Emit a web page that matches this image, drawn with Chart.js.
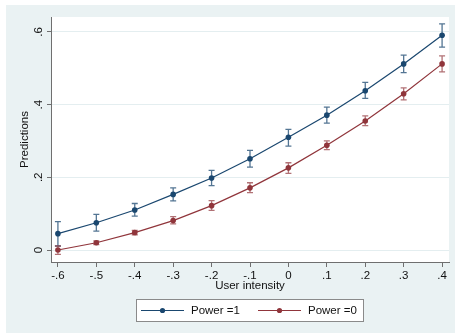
<!DOCTYPE html>
<html>
<head>
<meta charset="utf-8">
<script src="https://cdn.jsdelivr.net/npm/chart.js@4/dist/chart.umd.min.js"></script>
<style>
  html, body { margin: 0; padding: 0; background: #ffffff; }
  canvas { display: block; }
</style>
</head>
<body>
<canvas id="margins" width="455" height="333"></canvas>
<script>
// valeurs
const userIntensity = [-0.6, -0.5, -0.4, -0.3, -0.2, -0.1, 0, 0.1, 0.2, 0.3, 0.4];
const power1 = [0.045, 0.075, 0.110, 0.153, 0.198, 0.251, 0.310, 0.371, 0.438, 0.512, 0.591];
const power1Lo = [0.011, 0.052, 0.093, 0.135, 0.177, 0.228, 0.286, 0.349, 0.417, 0.488, 0.558];
const power1Hi = [0.078, 0.098, 0.128, 0.171, 0.219, 0.274, 0.332, 0.393, 0.461, 0.536, 0.622];
const power0 = [0.000, 0.020, 0.048, 0.081, 0.122, 0.171, 0.226, 0.288, 0.355, 0.430, 0.512];
const power0Lo = [-0.012, 0.015, 0.042, 0.072, 0.109, 0.158, 0.211, 0.276, 0.342, 0.413, 0.490];
const power0Hi = [0.011, 0.025, 0.054, 0.092, 0.136, 0.185, 0.240, 0.300, 0.369, 0.446, 0.534];
const xTicks = [-0.6, -0.5, -0.4, -0.3, -0.2, -0.1, 0, 0.1, 0.2, 0.3, 0.4];
const yTicks = [0, 0.2, 0.4, 0.6];
const seriesLabels = ['Power =1', 'Power =0'];

const FONT = 'Liberation Sans, Arial, sans-serif';
const BLUE = '#1a476f';
const RED = '#90353b';
const AXIS = '#6f6f6f';

// format Stata: -.6, .2, 0
function stataLabel(v) {
    const n = Math.round(v * 10);
    if (n === 0) return '0';
    return (n < 0 ? '-' : '') + '.' + Math.abs(n);
}

function toPoints(ys) {
    return userIntensity.map((x, i) => ({ x: x, y: ys[i] }));
}

// fond gris + zone blanche du graphique
const backgroundPlugin = {
    id: 'stataBackground',
    beforeDraw(chart) {
        const { ctx, chartArea } = chart;
        ctx.save();
        ctx.fillStyle = '#eaf2f3';
        ctx.fillRect(6, 5, chart.width - 6, chart.height - 5);
        ctx.fillStyle = '#ffffff';
        ctx.fillRect(chartArea.left, chartArea.top, chartArea.right - chartArea.left, chartArea.bottom - chartArea.top);
        ctx.restore();
    }
};

// barres d'erreur (rcap)
const errorBarsPlugin = {
    id: 'errorBars',
    beforeDatasetsDraw(chart) {
        const { ctx, scales } = chart;
        const bounds = [
            { lo: power1Lo, hi: power1Hi, color: 'rgba(26, 71, 111, 0.75)' },
            { lo: power0Lo, hi: power0Hi, color: 'rgba(144, 53, 59, 0.7)' }
        ];
        ctx.save();
        ctx.lineWidth = 1.3;
        bounds.forEach(b => {
            ctx.strokeStyle = b.color;
            userIntensity.forEach((x, i) => {
                const px = scales.x.getPixelForValue(x);
                const yLo = scales.y.getPixelForValue(b.lo[i]);
                const yHi = scales.y.getPixelForValue(b.hi[i]);
                ctx.beginPath();
                ctx.moveTo(px, yLo);
                ctx.lineTo(px, yHi);
                ctx.moveTo(px - 3, yLo);
                ctx.lineTo(px + 3, yLo);
                ctx.moveTo(px - 3, yHi);
                ctx.lineTo(px + 3, yHi);
                ctx.stroke();
            });
        });
        ctx.restore();
    }
};

// étiquettes verticales de l'axe y + légende encadrée
const labelsPlugin = {
    id: 'stataLabels',
    afterDraw(chart) {
        const { ctx, scales } = chart;
        ctx.save();
        ctx.fillStyle = '#111111';
        ctx.font = '11.5px ' + FONT;
        ctx.textAlign = 'center';
        ctx.textBaseline = 'middle';
        yTicks.forEach(v => {
            const py = scales.y.getPixelForValue(v);
            ctx.save();
            ctx.translate(39, py);
            ctx.rotate(-Math.PI / 2);
            ctx.fillText(stataLabel(v), 0, 0);
            ctx.restore();
        });

        // légende
        ctx.fillStyle = '#ffffff';
        ctx.fillRect(136.5, 299.5, 227, 22);
        ctx.strokeStyle = '#8a8a8a';
        ctx.lineWidth = 1;
        ctx.strokeRect(136.5, 299.5, 227, 22);
        const entries = [
            { x0: 141, x1: 184, text: seriesLabels[0], color: BLUE },
            { x0: 258, x1: 301, text: seriesLabels[1], color: RED }
        ];
        const ly = 310.5;
        entries.forEach(e => {
            ctx.strokeStyle = e.color;
            ctx.lineWidth = 1.2;
            ctx.beginPath();
            ctx.moveTo(e.x0, ly);
            ctx.lineTo(e.x1, ly);
            ctx.stroke();
            ctx.fillStyle = e.color;
            ctx.beginPath();
            ctx.arc((e.x0 + e.x1) / 2, ly, 2.6, 0, Math.PI * 2);
            ctx.fill();
            ctx.fillStyle = '#111111';
            ctx.textAlign = 'left';
            ctx.fillText(e.text, e.x1 + 7, ly);
        });
        ctx.restore();
    }
};

new Chart(document.getElementById('margins').getContext('2d'), {
    type: 'scatter',
    data: {
        datasets: [
            {
                label: seriesLabels[0],
                data: toPoints(power1),
                showLine: true,
                borderColor: BLUE,
                backgroundColor: BLUE,
                borderWidth: 1.2,
                pointRadius: 2.8,
                pointBorderWidth: 0,
                tension: 0
            },
            {
                label: seriesLabels[1],
                data: toPoints(power0),
                showLine: true,
                borderColor: RED,
                backgroundColor: RED,
                borderWidth: 1.2,
                pointRadius: 2.8,
                pointBorderWidth: 0,
                tension: 0
            }
        ]
    },
    options: {
        responsive: false,
        animation: false,
        events: [],
        layout: { padding: { left: 6, top: 17, right: 6, bottom: 0 } },
        plugins: {
            legend: { display: false },
            tooltip: { enabled: false }
        },
        scales: {
            x: {
                type: 'linear',
                min: -0.618,
                max: 0.418,
                afterBuildTicks: scale => { scale.ticks = xTicks.map(v => ({ value: v })); },
                afterFit: scale => { scale.height = 71; },
                ticks: {
                    callback: v => stataLabel(v),
                    color: '#111111',
                    font: { family: FONT, size: 11.5 },
                    padding: 2,
                    maxRotation: 0,
                    minRotation: 0
                },
                grid: { drawOnChartArea: false, drawTicks: true, tickLength: 5, tickColor: AXIS },
                border: { display: true, color: AXIS, width: 1 },
                title: {
                    display: true,
                    text: 'User intensity',
                    color: '#111111',
                    font: { family: FONT, size: 11.5 },
                    padding: { top: 0, bottom: 40 }
                }
            },
            y: {
                type: 'linear',
                min: -0.033,
                max: 0.641,
                afterBuildTicks: scale => { scale.ticks = yTicks.map(v => ({ value: v })); },
                afterFit: scale => { scale.width = 45; },
                ticks: { display: false },
                grid: { color: '#e4eef0', lineWidth: 1, drawTicks: true, tickLength: 4, tickColor: AXIS },
                border: { display: true, color: AXIS, width: 1 },
                title: {
                    display: true,
                    text: 'Predictions',
                    color: '#111111',
                    font: { family: FONT, size: 11.5 },
                    padding: { top: 12, bottom: 0 }
                }
            }
        }
    },
    plugins: [backgroundPlugin, errorBarsPlugin, labelsPlugin]
});
</script>
</body>
</html>
